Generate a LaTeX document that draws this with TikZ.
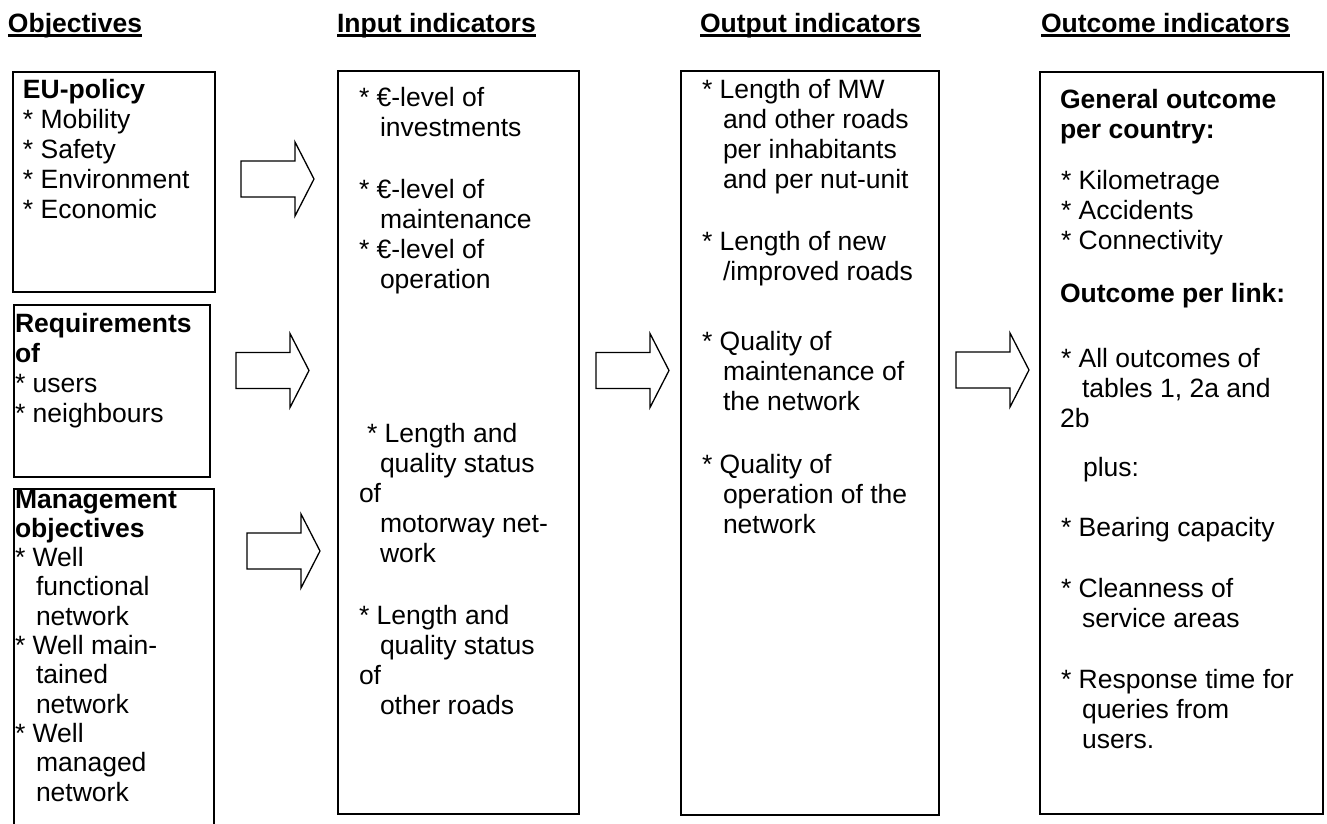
\documentclass[tikz,border=0pt]{standalone}
\usepackage{fontspec}
\setmainfont{Liberation Sans}
\newcommand\blk[2][30pt]{\vtop{\baselineskip=#1\lineskiplimit=-\maxdimen\lineskip=0pt\halign{##\hfil\cr#2\crcr}}}
\newcommand\ii{\kern21pt}
\newcommand\ulh[1]{\setbox0=\hbox{#1}\rlap{\vrule height -2pt depth 4.8pt width \wd0}\box0}
\newcommand\barrow[3]{\draw[barr] (#2,#3) coordinate (#1) ++(0,-18) -- ++(54,0) -- ++(0,-19) -- ++(19,37) -- ++(-19,37) -- ++(0,-19) -- ++(-54,0) -- cycle;}
\begin{document}
\begin{tikzpicture}[x=1pt,y=-1pt,
  txt/.style={anchor=base west, inner sep=0pt, outer sep=0pt, font=\fontsize{26.5}{30}\selectfont},
  hd/.style={txt, font=\fontsize{26.5}{30}\selectfont\bfseries},
  box/.style={draw, line width=1.6pt, anchor=north west, inner sep=0pt},
  barr/.style={draw, line width=1.3pt, fill=white, line join=miter}]
\useasboundingbox (0,0) rectangle (1327,823);
% headings
\node[hd] (h1) at (8,32) {\ulh{Objectives}};
\node[hd] (h2) at (337,32) {\ulh{Input indicators}};
\node[hd] (h3) at (700,32) {\ulh{Output indicators}};
\node[hd] (h4) at (1041,32) {\ulh{Outcome indicators}};
% boxes
\node[box, minimum width=202pt, minimum height=220pt] (eu) at (12,71) {};
\node[box, minimum width=196pt, minimum height=172pt] (rq) at (13,304) {};
\node[box, minimum width=200pt, minimum height=360pt] (mg) at (13,488) {};
\node[box, minimum width=241pt, minimum height=743pt] (in) at (337,70) {};
\node[box, minimum width=258pt, minimum height=744pt] (out) at (680,70) {};
\node[box, minimum width=283pt, minimum height=742pt] (oc) at (1039,71) {};
% block arrows
\barrow{a1}{241}{179}
\barrow{a2}{236}{370.5}
\barrow{a3}{247}{551}
\barrow{a4}{596}{370.5}
\barrow{a5}{956}{370}
% objectives
\node[txt] (teu) at (23,98) {\blk{\textbf{EU-policy}\cr * Mobility\cr * Safety\cr * Environment\cr * Economic}};
\node[txt] (trq) at (15,332) {\blk{\textbf{Requirements}\cr \textbf{of}\cr * users\cr * neighbours}};
\node[txt] (tmg) at (15,508) {\blk[29.3pt]{\textbf{Management}\cr \textbf{objectives}\cr * Well\cr \ii functional\cr \ii network\cr * Well main-\cr \ii tained\cr \ii network\cr * Well\cr \ii managed\cr \ii network}};
% input
\node[txt] (i1) at (359,106) {\blk{* €-level of\cr \ii investments}};
\node[txt] (i2) at (359,198) {\blk{* €-level of\cr \ii maintenance\cr * €-level of\cr \ii operation}};
\node[txt] (i3) at (359,442) {\blk{\kern8pt * Length and\cr \ii quality status\cr of\cr \ii motorway net-\cr \ii work}};
\node[txt] (i4) at (359,624) {\blk{* Length and\cr \ii quality status\cr of\cr \ii other roads}};
% output
\node[txt] (o1) at (702,98) {\blk{* Length of MW\cr \ii and other roads\cr \ii per inhabitants\cr \ii and per nut-unit}};
\node[txt] (o2) at (702,250) {\blk{* Length of new\cr \ii /improved roads}};
\node[txt] (o3) at (702,350) {\blk{* Quality of\cr \ii maintenance of\cr \ii the network}};
\node[txt] (o4) at (702,473) {\blk{* Quality of\cr \ii operation of the\cr \ii network}};
% outcome
\node[txt] (c1) at (1060,108) {\blk{\textbf{General outcome}\cr \textbf{per country:}}};
\node[txt] (c2) at (1061,189) {\blk{* Kilometrage\cr * Accidents\cr * Connectivity}};
\node[txt] (c3) at (1060,302) {\textbf{Outcome per link:}};
\node[txt] (c4) at (1061,367) {\blk{* All outcomes of\cr \ii tables 1, 2a and\cr \kern-1pt 2b}};
\node[txt] (c5) at (1083,476) {plus:};
\node[txt] (c6) at (1061,536) {* Bearing capacity};
\node[txt] (c7) at (1061,597) {\blk{* Cleanness of\cr \ii service areas}};
\node[txt] (c8) at (1061,688) {\blk{* Response time for\cr \ii queries from\cr \ii users.}};
\end{tikzpicture}
\end{document}
